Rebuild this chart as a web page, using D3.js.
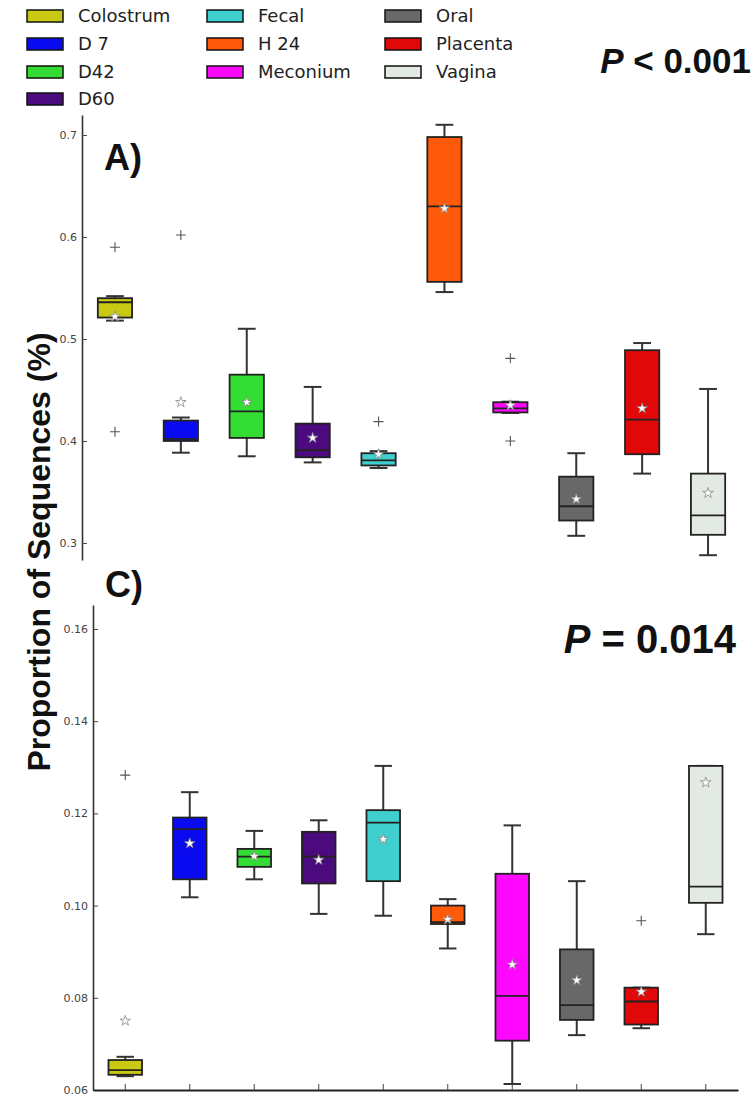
<!DOCTYPE html>
<html>
<head>
<meta charset="utf-8">
<script src="https://cdn.jsdelivr.net/npm/d3@7"></script>
<style>
  body { margin: 0; background: #fff; }
  svg { display: block; }
</style>
</head>
<body>
<div class="chart"></div>
<script>
// sample groups, in plotting order
const categories = ["Colostrum", "D 7", "D42", "D60", "Fecal", "H 24", "Meconium", "Oral", "Placenta", "Vagina"];
const colors = ["#c9c914", "#0a0af0", "#33dd33", "#4b0a7d", "#3fcfcf", "#ff5a0a", "#ff08ff", "#686868", "#e00808", "#e3e9e3"];

// panel A) box stats
const topLow = [0.518, 0.3885, 0.385, 0.379, 0.3735, 0.546, 0.4275, 0.307, 0.368, 0.288];
const topQ1 = [0.521, 0.400, 0.403, 0.384, 0.376, 0.556, 0.428, 0.322, 0.387, 0.308];
const topMedian = [0.536, 0.402, 0.429, 0.391, 0.381, 0.630, 0.432, 0.336, 0.421, 0.327];
const topQ3 = [0.540, 0.420, 0.465, 0.417, 0.388, 0.698, 0.438, 0.365, 0.489, 0.368];
const topHigh = [0.542, 0.423, 0.510, 0.453, 0.390, 0.710, 0.4385, 0.388, 0.496, 0.451];
const topMean = [0.522, 0.438, 0.438, 0.403, 0.387, 0.628, 0.435, 0.343, 0.432, 0.349];
const topOutliers = [[0.590, 0.409], [0.602], [], [], [0.419], [], [0.481, 0.400], [], [], []];
const topTicks = [0.3, 0.4, 0.5, 0.6, 0.7];

// panel C) box stats
const botLow = [0.0630, 0.1018, 0.1057, 0.0982, 0.0978, 0.0907, 0.0613, 0.0719, 0.0734, 0.0938];
const botQ1 = [0.0633, 0.1057, 0.1084, 0.1048, 0.1053, 0.0960, 0.0707, 0.0752, 0.0742, 0.1006];
const botMedian = [0.0643, 0.1166, 0.1106, 0.1106, 0.1180, 0.0964, 0.0804, 0.0784, 0.0792, 0.1041];
const botQ3 = [0.0665, 0.1191, 0.1123, 0.1160, 0.1207, 0.1000, 0.1069, 0.0905, 0.0822, 0.1303];
const botHigh = [0.0672, 0.1246, 0.1162, 0.1185, 0.1303, 0.1014, 0.1174, 0.1053, 0.0822, 0.1303];
const botMean = [0.0750, 0.1135, 0.1107, 0.1099, 0.1144, 0.0970, 0.0872, 0.0838, 0.0813, 0.1267];
const botOutliers = [[0.1283], [], [], [], [], [], [], [], [0.0967], []];
const botTicks = [0.06, 0.08, 0.10, 0.12, 0.14, 0.16];

const WIDTH = 755, HEIGHT = 1097;
const SANS = "'DejaVu Sans', sans-serif";
const ARIAL = "'Liberation Sans', Arial, sans-serif";

const svg = d3.select(".chart").append("svg")
  .attr("width", WIDTH)
  .attr("height", HEIGHT);

//Legend, 3 columns
const legendCols = [27, 207, 385];
const legendRows = [16, 44, 72, 99];
const legend = svg.append("g");
categories.forEach((c, i) => {
  const col = i < 4 ? 0 : (i < 7 ? 1 : 2);
  const row = i < 4 ? i : (i - 4) % 3;
  const g = legend.append("g")
    .attr("transform", `translate(${legendCols[col]},${legendRows[row]})`);
  g.append("rect")
    .attr("x", 0).attr("y", -6)
    .attr("width", 36).attr("height", 12)
    .style("fill", colors[i])
    .style("stroke", "#111")
    .style("stroke-width", 1.5);
  g.append("text")
    .attr("x", 51).attr("y", 6)
    .style("font-family", SANS)
    .style("font-size", "18px")
    .style("fill", "#222")
    .text(c);
});

//Draws one box plot panel
function drawPanel(opts) {
  const x = d3.scaleBand().domain(categories).range(opts.xRange).padding(0);
  const y = d3.scaleLinear().domain(opts.domain).range(opts.yRange);
  const g = svg.append("g");
  const boxW = x.bandwidth() * 0.52;
  const capW = x.bandwidth() * 0.27;
  const cx = c => x(c) + x.bandwidth() / 2;

  const rows = categories.map((c, i) => ({
    c, i, lo: opts.low[i], q1: opts.q1[i], med: opts.median[i],
    q3: opts.q3[i], hi: opts.high[i], mean: opts.mean[i], out: opts.outliers[i]
  }));

  // y axis (inward ticks, left spine only)
  const yAxis = g.append("g")
    .attr("transform", `translate(${opts.xRange[0]},0)`)
    .call(d3.axisLeft(y).tickValues(opts.ticks).tickFormat(d3.format(opts.fmt))
      .tickSizeInner(-5).tickSizeOuter(0).tickPadding(5));
  yAxis.select(".domain").style("stroke", "#333").style("stroke-width", 1.6);
  yAxis.selectAll(".tick line").style("stroke", "#444");
  yAxis.selectAll(".tick text")
    .style("font-family", SANS).style("font-size", "11px").style("fill", "#444");

  if (opts.xAxisY) {
    const xAxis = g.append("g")
      .attr("transform", `translate(0,${opts.xAxisY})`)
      .call(d3.axisBottom(x).tickFormat("").tickSizeInner(-6).tickSizeOuter(0));
    xAxis.select(".domain").style("stroke", "#222").style("stroke-width", 1.8);
    xAxis.selectAll(".tick line").style("stroke", "#444");
  }

  const box = g.selectAll(".box").data(rows).enter().append("g");

  // whiskers
  box.append("line")
    .attr("x1", d => cx(d.c)).attr("x2", d => cx(d.c))
    .attr("y1", d => y(d.hi)).attr("y2", d => y(d.q3))
    .style("stroke", "#333").style("stroke-width", 2);
  box.append("line")
    .attr("x1", d => cx(d.c)).attr("x2", d => cx(d.c))
    .attr("y1", d => y(d.q1)).attr("y2", d => y(d.lo))
    .style("stroke", "#333").style("stroke-width", 2);
  box.selectAll(".cap").data(d => [d.lo, d.hi].map(v => ({ c: d.c, v })))
    .enter().append("line")
    .attr("x1", d => cx(d.c) - capW / 2).attr("x2", d => cx(d.c) + capW / 2)
    .attr("y1", d => y(d.v)).attr("y2", d => y(d.v))
    .style("stroke", "#333").style("stroke-width", 2);

  // boxes
  box.append("rect")
    .attr("x", d => cx(d.c) - boxW / 2)
    .attr("y", d => y(d.q3))
    .attr("width", boxW)
    .attr("height", d => y(d.q1) - y(d.q3))
    .style("fill", d => colors[d.i])
    .style("stroke", "#222")
    .style("stroke-width", 1.8);

  // median
  box.append("line")
    .attr("x1", d => cx(d.c) - boxW / 2).attr("x2", d => cx(d.c) + boxW / 2)
    .attr("y1", d => y(d.med)).attr("y2", d => y(d.med))
    .style("stroke", "#222").style("stroke-width", 1.8);

  // mean star
  box.append("path")
    .attr("d", d3.symbol(d3.symbolStar, 34))
    .attr("transform", d => `translate(${cx(d.c)},${y(d.mean)})`)
    .style("fill", "#fff")
    .style("stroke", "#888")
    .style("stroke-width", 0.8);

  // outliers as +
  box.selectAll(".out").data(d => d.out.map(v => ({ c: d.c, v })))
    .enter().append("path")
    .attr("d", "M-5,0H5M0,-5V5")
    .attr("transform", d => `translate(${cx(d.c)},${y(d.v)})`)
    .style("stroke", "#555")
    .style("stroke-width", 1.1);

  // panel letter
  svg.append("text")
    .attr("x", opts.label[1]).attr("y", opts.label[2])
    .style("font-family", ARIAL).style("font-weight", "bold")
    .style("font-size", "36px").style("fill", "#111")
    .text(opts.label[0]);

  // p value
  const p = svg.append("text")
    .attr("x", opts.pPos[0]).attr("y", opts.pPos[1])
    .attr("text-anchor", "end")
    .style("font-family", ARIAL).style("font-weight", "bold")
    .style("font-size", opts.pSize + "px").style("fill", "#111");
  p.append("tspan").style("font-style", "italic").text("P");
  p.append("tspan").text(opts.pText);
}

drawPanel({
  xRange: [82, 741], yRange: [560, 115], domain: [0.2833, 0.7196],
  low: topLow, q1: topQ1, median: topMedian, q3: topQ3, high: topHigh,
  mean: topMean, outliers: topOutliers, ticks: topTicks, fmt: ".1f",
  label: ["A)", 104, 170], pPos: [751, 73], pSize: 35, pText: " < 0.001"
});

drawPanel({
  xRange: [93, 738], yRange: [1090, 605], domain: [0.06, 0.1652],
  low: botLow, q1: botQ1, median: botMedian, q3: botQ3, high: botHigh,
  mean: botMean, outliers: botOutliers, ticks: botTicks, fmt: ".2f",
  xAxisY: 1090,
  label: ["C)", 105, 597], pPos: [736, 653], pSize: 40, pText: " = 0.014"
});

// shared y axis title
svg.append("text")
  .attr("transform", "translate(50,552) rotate(-90)")
  .attr("text-anchor", "middle")
  .style("font-family", ARIAL).style("font-weight", "bold")
  .style("font-size", "32px").style("fill", "#111")
  .text("Proportion of Sequences (%)");
</script>
</body>
</html>
